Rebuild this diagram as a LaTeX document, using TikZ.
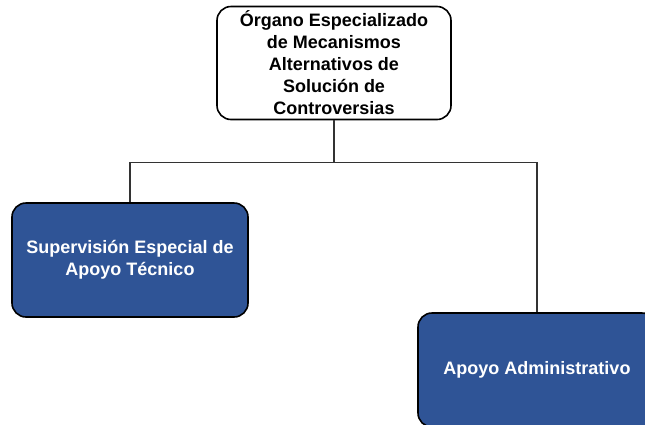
\documentclass[tikz,border=0pt]{standalone}
\usepackage{fontspec}
\setmainfont{Liberation Sans}
\definecolor{unitblue}{RGB}{47,84,150}

\tikzstyle{unitbox}=[draw, line width=1.6pt, rounded corners=14pt, align=center,
  font=\fontsize{18}{22}\selectfont\bfseries, inner sep=0pt]
\tikzstyle{bluebox}=[unitbox, fill=unitblue, text=white]
\tikzstyle{link}=[draw=black!80, line width=1.2pt]

\begin{document}
\begin{tikzpicture}[x=1pt, y=-1pt]
      \clip (0,0) rectangle (645,424);
      \fill[white] (0,0) rectangle (645,424);
      \node[unitbox, minimum width=234pt, minimum height=113pt] (organo) at (334, 63)
        {Órgano Especializado\\de Mecanismos\\Alternativos de\\Solución de\\Controversias};
      \node[bluebox, minimum width=236pt, minimum height=114pt] (supervision) at (130, 260)
        {Supervisión Especial de\\Apoyo Técnico};
      \node[bluebox, minimum width=238pt, minimum height=114pt] (apoyo) at (537, 370)
        {Apoyo Administrativo};
      \draw[link] (organo.south) -- ++(0,42) -| (supervision.north);
      \draw[link] (organo.south) -- ++(0,42) -| (apoyo.north);
    \end{tikzpicture}
\end{document}
